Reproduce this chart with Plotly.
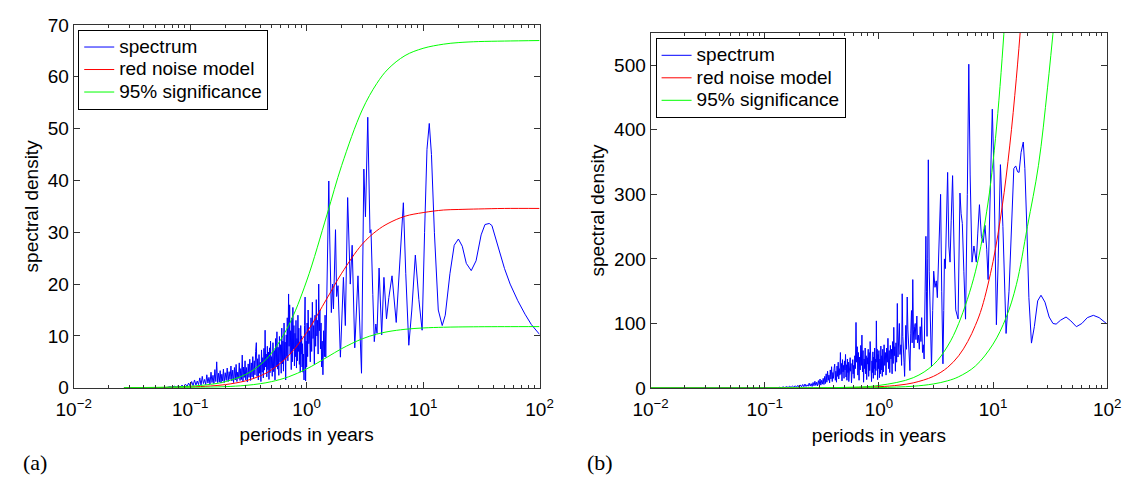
import plotly.graph_objects as go

# ---------------- panel (a) data ----------------
curve_periods_a = [0.027, 0.04, 0.05, 0.07, 0.1, 0.15, 0.2, 0.3, 0.4, 0.5, 0.7, 1, 1.5, 2, 3, 4, 5, 7,
                   10, 15, 20, 30, 50, 100]
red_a = [0.011, 0.025, 0.038, 0.075, 0.153, 0.343, 0.604, 1.33, 2.30, 3.46, 6.19, 10.65, 17.3, 22.1,
         27.7, 30.3, 31.7, 33.1, 33.8, 34.3, 34.4, 34.5, 34.6, 34.6]
sig_hi_a = [0.022, 0.048, 0.074, 0.146, 0.296, 0.663, 1.17, 2.58, 4.45, 6.70, 11.99, 20.6, 33.5, 42.9,
            53.6, 58.7, 61.5, 64.1, 65.5, 66.3, 66.6, 66.8, 66.9, 67.0]
sig_lo_a = [0.004, 0.008, 0.013, 0.026, 0.052, 0.117, 0.206, 0.454, 0.784, 1.18, 2.11, 3.63, 5.9, 7.55,
            9.44, 10.35, 10.83, 11.28, 11.54, 11.68, 11.73, 11.77, 11.79, 11.8]

spec_a_1 = [(0.027, 0.0), (0.035, 0.02), (0.045, 0.05), (0.055, 0.08), (0.06, 0.15), (0.063, 0.05),
            (0.067, 0.2), (0.07, 0.08), (0.073, 0.3), (0.076, 0.1), (0.079, 0.4), (0.082, 0.15),
            (0.085, 0.5), (0.088, 0.2), (0.091, 0.7), (0.094, 0.25), (0.097, 0.9), (0.1, 0.3)]
spec_a_2 = [(0.103, 1.2), (0.106, 0.4), (0.109, 1.5), (0.112, 0.5), (0.115, 1.3), (0.118, 0.6),
            (0.121, 1.9), (0.124, 0.5), (0.127, 2.2), (0.130, 0.8), (0.133, 1.6), (0.136, 0.6),
            (0.139, 2.5), (0.142, 0.9), (0.145, 2.0), (0.148, 0.7), (0.151, 3.0), (0.154, 1.0),
            (0.157, 2.4), (0.160, 0.8), (0.163, 3.5), (0.166, 1.2), (0.169, 5.0), (0.172, 1.0),
            (0.175, 2.8), (0.178, 1.1), (0.181, 3.3), (0.184, 0.9), (0.187, 2.6), (0.190, 1.3),
            (0.193, 3.6), (0.196, 1.0), (0.2, 2.9)]
spec_a_3 = [(0.204, 1.4), (0.208, 3.8), (0.212, 1.2), (0.216, 3.1), (0.220, 1.6), (0.224, 4.2),
            (0.228, 1.3), (0.232, 3.4), (0.236, 1.0), (0.240, 3.9), (0.244, 1.5), (0.248, 4.5),
            (0.252, 1.2), (0.256, 3.0), (0.260, 1.8), (0.264, 4.8), (0.268, 1.4), (0.272, 3.7),
            (0.276, 1.6), (0.280, 6.3), (0.284, 1.2), (0.288, 4.0), (0.292, 2.0), (0.296, 5.2),
            (0.300, 1.5), (0.305, 3.9), (0.310, 1.1), (0.315, 4.6), (0.320, 2.0), (0.325, 5.5),
            (0.330, 1.4)]
spec_a_4 = [(0.335, 4.8), (0.340, 2.1), (0.345, 6.0), (0.350, 1.8), (0.355, 5.2), (0.360, 2.5),
            (0.365, 7.0), (0.370, 8.7), (0.375, 2.2), (0.380, 5.6), (0.385, 1.5), (0.390, 6.4),
            (0.395, 2.8), (0.400, 4.9), (0.405, 1.2), (0.410, 7.3), (0.415, 3.0), (0.420, 5.8),
            (0.425, 1.9), (0.430, 7.6), (0.435, 3.4), (0.440, 11.1), (0.445, 4.0), (0.450, 6.5),
            (0.455, 2.1), (0.460, 8.0), (0.465, 3.5), (0.470, 6.9), (0.475, 1.6), (0.480, 7.7),
            (0.485, 2.9), (0.490, 9.0), (0.495, 3.8), (0.500, 6.0)]
spec_a_5 = [(0.507, 2.2), (0.514, 8.7), (0.521, 3.1), (0.528, 7.2), (0.535, 1.5), (0.542, 9.5),
            (0.549, 4.0), (0.556, 10.8), (0.563, 3.6), (0.570, 7.8), (0.577, 2.4), (0.584, 9.9),
            (0.591, 5.0), (0.598, 8.3), (0.605, 2.8), (0.612, 11.5), (0.619, 4.6), (0.626, 9.0),
            (0.633, 3.2), (0.640, 12.5), (0.647, 5.5), (0.654, 8.8), (0.661, 1.5), (0.668, 10.2),
            (0.675, 6.0), (0.682, 13.5), (0.690, 5.2), (0.700, 18.1), (0.707, 8.0), (0.715, 16.0),
            (0.722, 6.5), (0.730, 11.0), (0.738, 3.5)]
spec_a_6 = [(0.746, 13.5), (0.754, 5.0), (0.762, 15.5), (0.770, 7.5), (0.778, 12.0), (0.786, 4.2),
            (0.794, 10.5), (0.802, 6.0), (0.810, 13.0), (0.818, 3.8), (0.826, 9.5), (0.834, 5.2),
            (0.842, 14.0), (0.850, 7.0), (0.858, 11.5), (0.866, 4.5), (0.874, 8.8), (0.882, 3.0),
            (0.890, 12.0), (0.898, 6.5), (0.906, 10.0), (0.914, 4.0), (0.922, 8.5), (0.930, 3.0),
            (0.940, 6.5), (0.950, 1.5), (0.960, 12.0), (0.970, 17.5), (0.980, 1.3), (0.990, 9.0),
            (1.00, 4.0), (1.01, 12.5), (1.02, 6.0), (1.03, 15.0), (1.045, 8.5), (1.06, 11.0),
            (1.075, 5.0), (1.09, 13.5), (1.105, 7.0), (1.12, 16.5), (1.135, 9.5), (1.15, 12.0),
            (1.165, 4.5), (1.18, 14.0), (1.195, 8.0), (1.21, 17.0), (1.225, 10.0), (1.24, 13.0),
            (1.255, 6.5), (1.27, 20.0), (1.285, 11.0), (1.30, 15.0), (1.315, 7.5), (1.33, 12.5),
            (1.345, 4.0), (1.36, 9.0), (1.38, 2.5), (1.40, 11.0), (1.42, 6.0), (1.44, 14.0),
            (1.46, 5.9), (1.49, 18.0), (1.52, 29.9), (1.55, 39.9), (1.58, 28.7), (1.63, 14.5)]
spec_a_7 = [(1.67, 20.0), (1.70, 15.2), (1.77, 30.5), (1.81, 17.6), (1.86, 19.7), (1.95, 5.9),
            (2.02, 15.0), (2.07, 21.3), (2.15, 12.0), (2.25, 36.7), (2.37, 20.0), (2.46, 27.5),
            (2.59, 7.7), (2.76, 21.6), (2.96, 2.8), (3.1, 42.2), (3.2, 33.0), (3.35, 52.2),
            (3.5, 29.9), (3.57, 30.5), (3.7, 18.0), (3.81, 8.9), (3.93, 12.3), (4.02, 10.5),
            (4.19, 23.1), (4.41, 10.2), (4.61, 21.3), (4.85, 13.3), (5.08, 17.4), (5.41, 21.6),
            (5.88, 12.6), (6.3, 24.0), (6.77, 35.7), (7.1, 22.0), (7.54, 8.2), (8.0, 15.0),
            (8.58, 25.6), (9.2, 17.0), (9.81, 11.1), (10.3, 30.0), (10.8, 46.0), (11.3, 51.0),
            (11.8, 45.0), (12.5, 30.0), (13.5, 15.0), (14.6, 12.0), (15.5, 14.0), (17.0, 22.0),
            (18.5, 27.5), (20.1, 28.7), (21.7, 27.3), (23.5, 24.0), (25.9, 22.6), (28.5, 24.5),
            (31.5, 29.5), (34.0, 31.5), (37.0, 31.7), (39.0, 31.3), (45.0, 26.5), (50.0, 23.0),
            (55.9, 20.0), (65.0, 16.8), (75.0, 14.2), (85.0, 12.2), (100.0, 10.3)]

# ---------------- panel (b) data ----------------
red_periods_b = [0.01, 0.1, 0.3, 0.5, 1, 1.5, 2, 3, 4, 5, 6, 7, 8, 10, 12, 14, 16, 18]
red_b = [0.0, 0.02, 0.18, 0.5, 2.0, 4.5, 8, 18, 32, 50, 72, 97, 125, 196, 280, 375, 480, 590]
hi_periods_b = [0.01, 0.1, 0.5, 1, 2, 3, 4, 5, 7, 9, 10, 11, 12, 13]
sig_hi_b = [0.0, 0.04, 1.0, 4.0, 16, 36, 65, 100, 180, 285, 350, 425, 510, 600]
lo_periods_b = [0.01, 0.1, 0.5, 1, 2, 3, 4, 5, 7, 10, 13, 16, 20, 25, 30, 35]
sig_lo_b = [0.0, 0.005, 0.17, 0.7, 2.8, 6.3, 11.2, 17.5, 34, 68, 109, 160, 250, 345, 465, 585]

spec_b_1 = [(0.01, 0.0), (0.05, 0.0), (0.1, 0.3), (0.12, 0.5), (0.13, 0.3)]
spec_b_2 = [(0.135, 1.2), (0.14, 0.4), (0.145, 1.8), (0.15, 0.6), (0.155, 2.2), (0.16, 0.8),
            (0.165, 2.6), (0.17, 1.0), (0.175, 3.0), (0.18, 1.1), (0.185, 3.5), (0.19, 1.4),
            (0.195, 4.2), (0.2, 1.3), (0.205, 4.8), (0.21, 1.8), (0.215, 5.5), (0.22, 2.0),
            (0.225, 6.2), (0.23, 2.4), (0.235, 5.0), (0.24, 2.8), (0.245, 7.5), (0.25, 3.0),
            (0.255, 6.8), (0.26, 2.5), (0.265, 8.6), (0.27, 3.5), (0.275, 10.5), (0.28, 4.0),
            (0.285, 9.0), (0.29, 3.2), (0.295, 11.5), (0.3, 5.0), (0.305, 14.0), (0.31, 4.5),
            (0.315, 12.0), (0.32, 6.0), (0.325, 15.0), (0.33, 5.5)]
spec_b_3 = [(0.335, 18), (0.34, 7), (0.345, 22), (0.35, 9), (0.355, 26), (0.36, 12), (0.365, 20),
            (0.37, 8), (0.375, 28), (0.38, 14), (0.385, 33), (0.39, 10), (0.395, 24), (0.4, 15),
            (0.405, 30), (0.41, 37), (0.415, 12), (0.42, 26), (0.425, 9), (0.43, 34), (0.435, 18),
            (0.44, 40), (0.445, 14), (0.45, 30), (0.455, 20), (0.46, 55), (0.465, 22), (0.47, 38),
            (0.475, 11), (0.48, 44), (0.485, 25), (0.49, 35), (0.495, 15), (0.5, 42), (0.505, 28),
            (0.51, 52), (0.515, 17), (0.52, 36), (0.525, 12), (0.53, 45), (0.535, 24), (0.54, 40),
            (0.545, 10), (0.55, 33), (0.555, 20), (0.56, 47), (0.565, 26), (0.57, 38), (0.575, 8),
            (0.58, 30), (0.585, 18), (0.59, 44), (0.595, 22), (0.6, 35)]
spec_b_4 = [(0.607, 15), (0.615, 50), (0.622, 30), (0.63, 101.6), (0.638, 40), (0.646, 64),
            (0.654, 20), (0.662, 55), (0.67, 12), (0.678, 48), (0.686, 28), (0.694, 66), (0.702, 35),
            (0.71, 82), (0.718, 25), (0.726, 58), (0.734, 9), (0.742, 45), (0.75, 30), (0.758, 62),
            (0.766, 22), (0.774, 50), (0.782, 13), (0.79, 47), (0.798, 37), (0.806, 60), (0.814, 18),
            (0.822, 55), (0.83, 27), (0.838, 72), (0.846, 30), (0.854, 50), (0.862, 10), (0.87, 42),
            (0.878, 24), (0.886, 56), (0.894, 15), (0.902, 48), (0.91, 30), (0.918, 62), (0.926, 20),
            (0.934, 45), (0.942, 27), (0.95, 104), (0.958, 40), (0.966, 60), (0.974, 13), (0.982, 52),
            (0.99, 30), (1.0, 58), (1.01, 16), (1.02, 45), (1.03, 22), (1.04, 65), (1.05, 28),
            (1.06, 50), (1.07, 18), (1.08, 60)]
spec_b_5 = [(1.095, 25), (1.11, 67), (1.125, 35), (1.14, 55), (1.155, 20), (1.17, 62), (1.185, 40),
            (1.2, 77), (1.215, 30), (1.23, 58), (1.245, 24), (1.26, 66), (1.275, 45), (1.29, 60),
            (1.305, 22), (1.32, 72), (1.335, 38), (1.35, 94), (1.365, 50), (1.38, 64), (1.395, 26),
            (1.41, 70), (1.43, 40), (1.45, 131), (1.47, 48), (1.49, 85), (1.51, 100), (1.53, 52),
            (1.56, 67), (1.58, 35), (1.6, 146), (1.62, 80), (1.64, 67), (1.66, 40), (1.68, 18),
            (1.70, 70), (1.72, 97), (1.745, 60), (1.77, 141), (1.795, 90), (1.82, 67), (1.845, 45),
            (1.87, 27), (1.9, 85), (1.93, 120), (1.955, 70), (1.98, 168), (2.005, 90), (2.03, 62),
            (2.055, 95), (2.08, 100), (2.11, 75), (2.15, 111.5), (2.18, 70), (2.22, 82), (2.26, 60),
            (2.3, 95), (2.335, 72), (2.37, 109), (2.41, 55), (2.45, 67), (2.49, 45), (2.52, 90),
            (2.55, 140), (2.58, 235), (2.61, 150), (2.64, 80), (2.675, 200), (2.71, 353.5),
            (2.76, 180), (2.8, 120), (2.85, 60), (2.89, 32.6)]
spec_b_6 = [(2.96, 120), (3.02, 181), (3.1, 156), (3.18, 166), (3.25, 140), (3.34, 205), (3.47, 300),
            (3.55, 150), (3.64, 37.5), (3.7, 120), (3.75, 200), (3.82, 185), (3.9, 250), (4.0, 334),
            (4.1, 220), (4.2, 195), (4.3, 260), (4.42, 329), (4.55, 220), (4.71, 121), (4.94, 107),
            (5.05, 200), (5.13, 302), (5.25, 270), (5.38, 255), (5.55, 180), (5.74, 106.7),
            (5.95, 300), (6.13, 501.6), (6.3, 330), (6.54, 195), (6.8, 220), (7.13, 195), (7.35, 240),
            (7.6, 284), (7.9, 235), (8.2, 225), (8.5, 252), (8.8, 215), (9.05, 168), (9.4, 300),
            (9.85, 432), (10.2, 330), (10.7, 98), (11.1, 200), (11.6, 346), (12.2, 250), (13.0, 84.5),
            (13.8, 150), (14.6, 270), (15.2, 340), (15.8, 344), (16.4, 335), (16.9, 334), (17.6, 365),
            (18.4, 381), (19.0, 340), (19.8, 245), (20.6, 140), (21.7, 69.6), (23.0, 95),
            (24.6, 135), (26.3, 143.7), (28.5, 133), (31.0, 110), (33.5, 100), (35.7, 99),
            (39.0, 105), (43.6, 110), (48.0, 104), (53.7, 95), (60.0, 100), (67.0, 109),
            (75.6, 112.6), (85.0, 109), (100.0, 99)]

x_tickvals = [0.01, 0.1, 1, 10, 100]
x_ticktext = ["10<sup>\u22122</sup>", "10<sup>\u22121</sup>", "10<sup>0</sup>", "10<sup>1</sup>",
              "10<sup>2</sup>"]
y_ticks_a = [0, 10, 20, 30, 40, 50, 60, 70]
y_ticks_b = [0, 100, 200, 300, 400, 500]
legend_names = ["spectrum", "red noise model", "95% significance"]

# ---------------- build figure ----------------
spec_a = spec_a_1 + spec_a_2 + spec_a_3 + spec_a_4 + spec_a_5 + spec_a_6 + spec_a_7
spec_b = spec_b_1 + spec_b_2 + spec_b_3 + spec_b_4 + spec_b_5 + spec_b_6

BLUE, RED, GREEN = "#0000ff", "#ff0000", "#00ff00"
FONT = "Liberation Sans, Arial, sans-serif"
FS = 19


def leg(name):
    # legend rows are spaced from the (smaller) legend font; text itself drawn at 19px
    return "<span style='font-size:19px'>" + name + "</span>"


fig = go.Figure()


def add_panel(spec, curves, xa, ya, legend):
    fig.add_trace(go.Scatter(x=[p for p, _ in spec], y=[v for _, v in spec], mode="lines",
                             name=leg(legend_names[0]), line=dict(color=BLUE, width=1),
                             xaxis=xa, yaxis=ya, legend=legend))
    for px, py, col, nm, show in curves:
        fig.add_trace(go.Scatter(x=px, y=py, mode="lines", name=leg(nm), showlegend=show,
                                 line=dict(color=col, width=1, shape="spline", smoothing=1.0),
                                 xaxis=xa, yaxis=ya, legend=legend))


add_panel(spec_a, [
    (curve_periods_a, red_a, RED, legend_names[1], True),
    (curve_periods_a, sig_hi_a, GREEN, legend_names[2], True),
    (curve_periods_a, sig_lo_a, GREEN, legend_names[2], False),
], "x", "y", "legend")
add_panel(spec_b, [
    (red_periods_b, red_b, RED, legend_names[1], True),
    (hi_periods_b, sig_hi_b, GREEN, legend_names[2], True),
    (lo_periods_b, sig_lo_b, GREEN, legend_names[2], False),
], "x2", "y2", "legend2")

minor_vals = [m * 10 ** e for e in (-2, -1, 0, 1) for m in range(2, 10)]

common_x = dict(type="log", range=[-2, 2], tickvals=x_tickvals, ticktext=x_ticktext,
                ticks="inside", ticklen=6, tickcolor="#333", showline=True, linecolor="#333",
                linewidth=1, mirror="ticks", showgrid=False, zeroline=False,
                ticklabelstandoff=4,
                minor=dict(tickvals=minor_vals, ticks="inside", ticklen=3, tickcolor="#333",
                           showgrid=False),
                tickfont=dict(size=FS, color="black", family=FONT),
                title=dict(text="periods in years", font=dict(size=FS, color="black", family=FONT),
                           standoff=9))
common_y = dict(ticks="inside", ticklen=6, tickcolor="#333", showline=True, linecolor="#333",
                linewidth=1, mirror="ticks", showgrid=False, zeroline=False,
                tickfont=dict(size=FS, color="black", family=FONT),
                title=dict(text="spectral density", font=dict(size=FS, color="black", family=FONT),
                           standoff=4))

legend_common = dict(bgcolor="white", bordercolor="black", borderwidth=1,
                     font=dict(size=15, color="black", family=FONT), xanchor="left",
                     yanchor="top", tracegroupgap=0, itemwidth=30)

fig.update_layout(
    width=1137, height=481, margin=dict(l=0, r=0, t=0, b=0),
    plot_bgcolor="white", paper_bgcolor="white",
    font=dict(family=FONT, color="black"),
    xaxis=dict(domain=[0.0504, 0.4720], anchor="y", **common_x),
    yaxis=dict(domain=[0.1788, 0.9674], anchor="x", range=[0, 70], tickvals=y_ticks_a, **common_y),
    xaxis2=dict(domain=[0.5725, 0.9857], anchor="y2", **common_x),
    yaxis2=dict(domain=[0.1782, 0.9501], anchor="x2", range=[0, 550], tickvals=y_ticks_b,
                **common_y),
    legend=dict(x=0.0545, y=0.957, **legend_common),
    legend2=dict(x=0.577, y=0.939, **legend_common),
    showlegend=True,
    annotations=[
        dict(text="(a)", x=0.003, y=0.016, xref="paper", yref="paper", xanchor="left",
             yanchor="middle", showarrow=False,
             font=dict(family="Liberation Serif, Times New Roman, serif", size=22, color="black")),
        dict(text="(b)", x=0.513, y=0.016, xref="paper", yref="paper", xanchor="left",
             yanchor="middle", showarrow=False,
             font=dict(family="Liberation Serif, Times New Roman, serif", size=22, color="black")),
    ],
)

fig.write_html("out.html")
